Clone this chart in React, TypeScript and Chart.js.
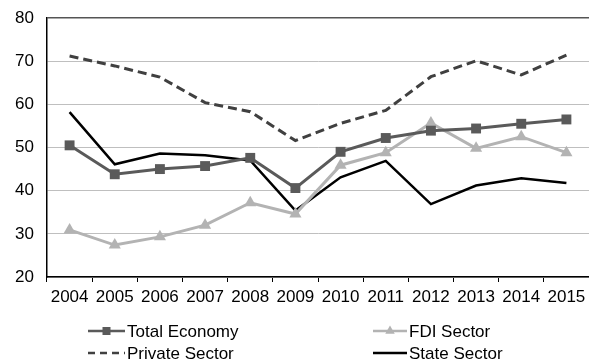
import React, { useEffect, useRef } from "react";
import { Chart, registerables } from "chart.js";

Chart.register(...registerables);

const years = ["2004", "2005", "2006", "2007", "2008", "2009", "2010", "2011", "2012", "2013", "2014", "2015"];
const totalEconomy = [50.5, 43.8, 45.0, 45.7, 47.6, 40.6, 49.0, 52.2, 53.9, 54.4, 55.5, 56.5];
const fdiSector = [30.9, 27.4, 29.3, 32.0, 37.2, 34.6, 45.9, 48.8, 55.7, 49.8, 52.5, 48.8];
const privateSector = [71.2, 68.9, 66.3, 60.4, 58.3, 51.6, 55.6, 58.6, 66.4, 70.1, 66.8, 71.4];
const stateSector = [58.2, 46.1, 48.6, 48.2, 47.0, 35.4, 43.1, 46.9, 36.9, 41.2, 42.9, 41.8];
const yTicks = [20, 30, 40, 50, 60, 70, 80];

const FONT = "'Liberation Sans', Arial, sans-serif";

const legendPlugin = {
  id: "gridLegend",
  afterDraw(chart: any) {
    const ctx = chart.ctx;
    const items = [
      { i: 0, x: 88, len: 37, y: 331 },
      { i: 1, x: 373, len: 34, y: 331 },
      { i: 2, x: 88, len: 37, y: 353 },
      { i: 3, x: 373, len: 34, y: 353 },
    ];
    ctx.save();
    for (const it of items) {
      const ds: any = chart.data.datasets[it.i];
      const len = it.len;
      ctx.strokeStyle = ds.borderColor;
      ctx.lineWidth = Math.min(ds.borderWidth, 2.5);
      ctx.setLineDash(ds.borderDash ? [7, 5] : []);
      ctx.beginPath();
      ctx.moveTo(it.x, it.y);
      ctx.lineTo(it.x + len, it.y);
      ctx.stroke();
      ctx.setLineDash([]);
      if (ds.pointRadius > 0) {
        ctx.fillStyle = ds.pointBackgroundColor;
        const cx = it.x + len / 2;
        if (ds.pointStyle === "rect") {
          ctx.fillRect(cx - 4, it.y - 4, 8, 8);
        } else if (ds.pointStyle === "triangle") {
          const r = 5.5;
          ctx.beginPath();
          ctx.moveTo(cx, it.y - r);
          ctx.lineTo(cx + r * 0.866, it.y + r / 2);
          ctx.lineTo(cx - r * 0.866, it.y + r / 2);
          ctx.closePath();
          ctx.fill();
        }
      }
      ctx.fillStyle = "#000";
      ctx.font = `17px ${FONT}`;
      ctx.textBaseline = "middle";
      ctx.textAlign = "left";
      ctx.fillText(ds.label, it.x + len + 2, it.y + 1);
    }
    ctx.restore();
  },
};

export default function App() {
  const ref = useRef<HTMLCanvasElement>(null);
  useEffect(() => {
    document.body.style.margin = "0";
    const chart = new Chart(ref.current!, {
      type: "line",
      data: {
        labels: years,
        datasets: [
          {
            label: "Total Economy",
            data: totalEconomy,
            borderColor: "#5a5a5a",
            backgroundColor: "#5a5a5a",
            pointBackgroundColor: "#5a5a5a",
            pointBorderColor: "#5a5a5a",
            borderWidth: 3,
            pointStyle: "rect",
            pointRadius: 7,
            pointBorderWidth: 0,
            tension: 0,
          },
          {
            label: "FDI Sector",
            data: fdiSector,
            borderColor: "#b3b3b3",
            backgroundColor: "#b3b3b3",
            pointBackgroundColor: "#b3b3b3",
            pointBorderColor: "#b3b3b3",
            borderWidth: 3,
            pointStyle: "triangle",
            pointRadius: 7,
            pointBorderWidth: 0,
            tension: 0,
          },
          {
            label: "Private Sector",
            data: privateSector,
            borderColor: "#404040",
            backgroundColor: "#404040",
            borderWidth: 3,
            borderDash: [9, 5],
            pointRadius: 0,
            tension: 0,
          },
          {
            label: "State Sector",
            data: stateSector,
            borderColor: "#000000",
            backgroundColor: "#000000",
            borderWidth: 2.5,
            pointRadius: 0,
            tension: 0,
          },
        ],
      },
      options: {
        animation: false,
        responsive: false,
        maintainAspectRatio: false,
        layout: { autoPadding: false, padding: { top: 18, left: 0, right: 0, bottom: 0 } },
        plugins: { legend: { display: false }, tooltip: { enabled: false } },
        scales: {
          x: {
            offset: true,
            grid: {
              offset: true,
              display: true,
              drawOnChartArea: false,
              drawTicks: true,
              tickLength: 5,
              color: "#000",
            },
            border: { color: "#000", width: 1.5 },
            ticks: { color: "#000", font: { family: FONT, size: 17 }, padding: 5, maxRotation: 0, autoSkip: false },
            afterFit: (s: any) => {
              s.height = 85;
              s.paddingLeft = 0;
              s.paddingRight = 0;
            },
          },
          y: {
            min: 20,
            max: 80,
            afterBuildTicks: (s: any) => {
              s.ticks = yTicks.map((v) => ({ value: v }));
            },
            grid: {
              drawTicks: false,
              color: (c: any) => (c.tick && c.tick.value === 80 ? "#555555" : "#bfbfbf"),
              lineWidth: (c: any) => (c.tick && c.tick.value === 80 ? 1.5 : 1),
            },
            border: { color: "#000", width: 1.5 },
            ticks: { color: "#000", font: { family: FONT, size: 17 }, padding: 13 },
            afterFit: (s: any) => {
              s.width = 47;
              s.paddingTop = 0;
              s.paddingBottom = 0;
            },
          },
        },
      },
      plugins: [legendPlugin],
    });
    return () => chart.destroy();
  }, []);
  return (
    <div style={{ position: "absolute", left: 0, top: 0, width: 589, height: 362 }}>
      <canvas ref={ref} width={589} height={362} style={{ width: 589, height: 362 }} />
    </div>
  );
}
